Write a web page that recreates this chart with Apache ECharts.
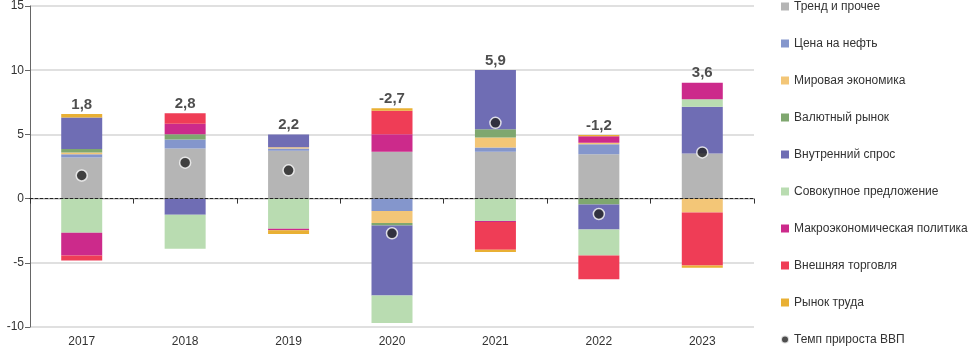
<!DOCTYPE html>
<html>
<head>
<meta charset="utf-8">
<script src="https://cdn.jsdelivr.net/npm/echarts@6/dist/echarts.min.js"></script>
<style>
html,body{margin:0;padding:0;background:#fff;}
#main{width:972px;height:351px;}
</style>
</head>
<body>
<div id="main"></div>
<script>
var years = ['2017','2018','2019','2020','2021','2022','2023'];
var trendArr    = [3.2, 3.9, 3.72, 3.64, 3.64, 3.46, 3.52];
var oilArr      = [0.25, 0.7, 0.18, -0.97, 0.34, 0.78, 0];
var worldArr    = [0.15, 0, 0.1, -0.93, 0.78, 0.1, -1.09];
var fxArr       = [0.27, 0.42, 0, -0.2, 0.65, -0.45, 0];
var demandArr   = [2.45, -1.25, 1.0, -5.45, 4.6, -1.95, 3.64];
var supplyArr   = [-2.66, -2.65, -2.34, -2.14, -1.75, -2.03, 0.57];
var macroArr    = [-1.77, 0.81, -0.12, 1.38, -0.08, 0.52, 1.3];
var tradeArr    = [-0.39, 0.81, 0, 1.82, -2.15, -1.85, -4.12];
var labourArr   = [0.27, 0, -0.3, 0.19, -0.18, 0.1, -0.18];
var gdpArr      = [1.8, 2.8, 2.2, -2.7, 5.9, -1.2, 3.6];
var yTicks      = [-10, -5, 0, 5, 10, 15];

var parts = [
	{name:'Тренд и прочее', data:trendArr, color:'#b5b5b5'},
	{name:'Цена на нефть', data:oilArr, color:'#8496cc'},
	{name:'Мировая экономика', data:worldArr, color:'#f3c677'},
	{name:'Валютный рынок', data:fxArr, color:'#7fa76f'},
	{name:'Внутренний спрос', data:demandArr, color:'#6f6db4'},
	{name:'Совокупное предложение', data:supplyArr, color:'#b9dcb1'},
	{name:'Макроэкономическая политика', data:macroArr, color:'#cc2a8b'},
	{name:'Внешняя торговля', data:tradeArr, color:'#ef3d56'},
	{name:'Рынок труда', data:labourArr, color:'#e9b034'}
];

// top of positive stack -> where the GDP number sits
var topArr = [];
for(var i=0;i<years.length;i++){
	var s = 0;
	for(var j=0;j<parts.length;j++){
		if(parts[j].data[i] > 0) s += parts[j].data[i];
	}
	topArr.push(s);
}

var series = [];
for(var j=0;j<parts.length;j++){
	series.push({
		name:parts[j].name,
		type:'bar',
		stack:'total',
		barWidth:41,
		itemStyle:{color:parts[j].color},
		data:parts[j].data
	});
}
series.push({
	name:'Темп прироста ВВП',
	type:'scatter',
	symbol:'circle',
	symbolSize:11,
	itemStyle:{color:'#222222', borderColor:'#ffffff', borderWidth:1.5},
	z:5,
	data:gdpArr
});
series.push({
	name:'labels',
	type:'scatter',
	symbolSize:0,
	silent:true,
	z:6,
	label:{
		show:true,
		position:'top',
		distance:2,
		fontSize:15,
		fontWeight:'bold',
		color:'#222',
		fontFamily:'Liberation Sans',
		formatter:function(p){ return String(gdpArr[p.dataIndex]).replace('.', ','); }
	},
	data:topArr
});

var legendData = [];
for(var j=0;j<parts.length;j++) legendData.push({name:parts[j].name, icon:'rect'});
legendData.push({name:'Темп прироста ВВП', icon:'circle'});

var myChart = echarts.init(document.getElementById('main'));
var option = {
	animation:false,
	textStyle:{fontFamily:'Liberation Sans'},
	grid:{left:30, right:218, top:6, bottom:24},
	legend:{
		orient:'vertical',
		left:780,
		top:0,
		padding:0,
		itemWidth:8,
		itemHeight:8,
		itemGap:24,
		textStyle:{fontSize:12, color:'#333', lineHeight:13, fontFamily:'Liberation Sans'},
		data:legendData
	},
	xAxis:[
		{
			type:'category',
			data:years,
			position:'bottom',
			axisLine:{show:false, onZero:false},
			axisTick:{show:false},
			axisLabel:{fontSize:12, color:'#333', margin:9}
		},
		{
			type:'category',
			data:years,
			position:'top',
			z:10,
			axisLine:{show:true, onZero:true, lineStyle:{color:'#222', type:[3,2], width:1}},
			axisTick:{show:true, inside:true, length:5, lineStyle:{color:'#333'}},
			axisLabel:{show:false}
		}
	],
	yAxis:{
		type:'value',
		min:yTicks[0],
		max:yTicks[yTicks.length-1],
		interval:5,
		axisLine:{show:true, lineStyle:{color:'#666'}},
		axisTick:{show:true, length:5, lineStyle:{color:'#666'}},
		axisLabel:{fontSize:12, color:'#333', margin:6},
		splitLine:{lineStyle:{color:'#d6d6d6', width:1.5}}
	},
	series:series
};
myChart.setOption(option);
</script>
</body>
</html>
